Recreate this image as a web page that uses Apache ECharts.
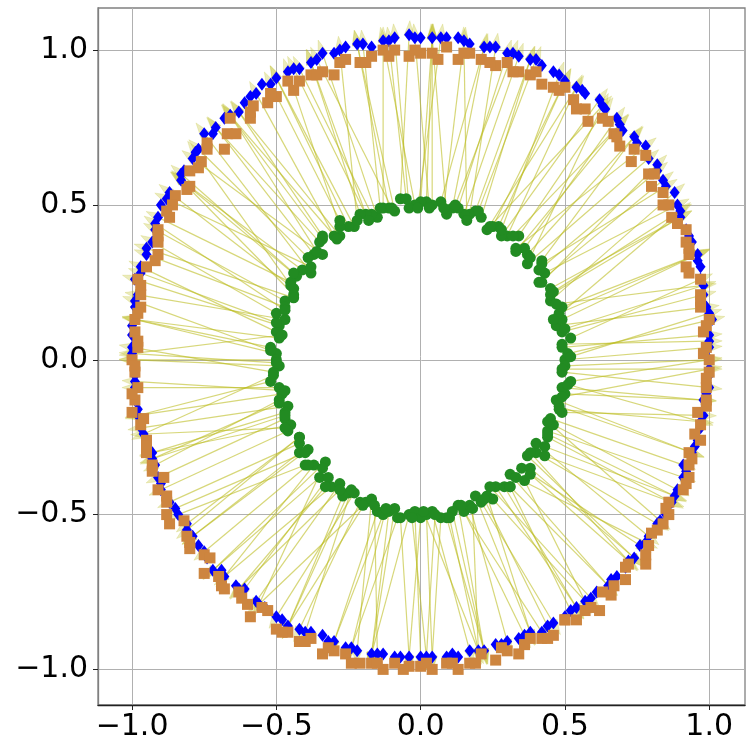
<!DOCTYPE html>
<html>
<head>
<meta charset="utf-8">
<script src="https://cdn.jsdelivr.net/npm/echarts@6/dist/echarts.min.js"></script>
<style>
  html, body { margin: 0; padding: 0; background: #fff; }
  #chart { width: 754px; height: 754px; }
</style>
</head>
<body>
<div id="chart"></div>
<script>
// tick positions on both axes
var tickValues = [-1.0, -0.5, 0.0, 0.5, 1.0];

// inner ring (green circles), first pass, read counter-clockwise from angle 0
var innerPoints = [
  [0.50, 0.00], [0.51, 0.02], [0.49, 0.04], [0.52, 0.07], [0.49, 0.09], [0.47, 0.11],
  [0.49, 0.13], [0.48, 0.15], [0.49, 0.17], [0.45, 0.19], [0.45, 0.21], [0.45, 0.23],
  [0.41, 0.25], [0.43, 0.28], [0.41, 0.29], [0.42, 0.32], [0.37, 0.31], [0.37, 0.34],
  [0.36, 0.36], [0.33, 0.36], [0.34, 0.40], [0.30, 0.40], [0.28, 0.40], [0.27, 0.43],
  [0.25, 0.43], [0.23, 0.42], [0.21, 0.46], [0.19, 0.48], [0.17, 0.47], [0.15, 0.47],
  [0.13, 0.49], [0.11, 0.49], [0.09, 0.47], [0.07, 0.51], [0.04, 0.50], [0.02, 0.51],
  [0.00, 0.51], [-0.02, 0.50], [-0.04, 0.49], [-0.07, 0.52], [-0.09, 0.48], [-0.11, 0.49],
  [-0.13, 0.49], [-0.15, 0.46], [-0.17, 0.47], [-0.19, 0.47], [-0.21, 0.47], [-0.23, 0.43],
  [-0.25, 0.43], [-0.28, 0.43], [-0.28, 0.40], [-0.30, 0.40], [-0.34, 0.40], [-0.35, 0.38],
  [-0.34, 0.34], [-0.37, 0.34], [-0.39, 0.33], [-0.38, 0.28], [-0.41, 0.29], [-0.43, 0.27],
  [-0.45, 0.25], [-0.44, 0.23], [-0.44, 0.21], [-0.47, 0.19], [-0.47, 0.17], [-0.50, 0.15],
  [-0.47, 0.13], [-0.49, 0.11], [-0.50, 0.09], [-0.49, 0.07], [-0.52, 0.04], [-0.50, 0.02],
  [-0.50, 0.00], [-0.49, -0.02], [-0.51, -0.04], [-0.52, -0.07], [-0.49, -0.09], [-0.48, -0.11],
  [-0.49, -0.13], [-0.46, -0.15], [-0.47, -0.17], [-0.47, -0.19], [-0.45, -0.21], [-0.46, -0.23],
  [-0.42, -0.25], [-0.42, -0.27], [-0.42, -0.30], [-0.39, -0.29], [-0.40, -0.34], [-0.37, -0.34],
  [-0.33, -0.33], [-0.35, -0.38], [-0.32, -0.38], [-0.31, -0.41], [-0.28, -0.40], [-0.27, -0.44],
  [-0.25, -0.43], [-0.23, -0.43], [-0.21, -0.46], [-0.19, -0.46], [-0.17, -0.45], [-0.15, -0.49],
  [-0.13, -0.50], [-0.11, -0.49], [-0.09, -0.48], [-0.07, -0.51], [-0.04, -0.50], [-0.02, -0.49],
  [0.00, -0.51], [0.02, -0.50], [0.04, -0.49], [0.07, -0.51], [0.09, -0.51], [0.11, -0.49],
  [0.13, -0.47], [0.15, -0.49], [0.17, -0.47], [0.19, -0.44], [0.21, -0.46], [0.23, -0.44],
  [0.25, -0.45], [0.26, -0.41], [0.29, -0.41], [0.31, -0.41], [0.31, -0.37], [0.36, -0.39],
  [0.35, -0.35], [0.38, -0.35], [0.37, -0.31], [0.40, -0.30], [0.43, -0.31], [0.40, -0.27],
  [0.44, -0.25], [0.44, -0.23], [0.46, -0.21], [0.45, -0.19], [0.49, -0.17], [0.48, -0.15],
  [0.47, -0.13], [0.50, -0.11], [0.49, -0.09], [0.52, -0.07], [0.49, -0.04], [0.50, -0.02]
];

// inner ring, second pass (points between the first ones)
var innerPointsB = [
  [0.52, 0.01], [0.49, 0.05], [0.50, 0.10], [0.46, 0.13], [0.47, 0.18], [0.46, 0.22],
  [0.42, 0.25], [0.42, 0.31], [0.38, 0.33], [0.33, 0.35], [0.32, 0.40], [0.28, 0.42],
  [0.24, 0.43], [0.20, 0.48], [0.16, 0.45], [0.12, 0.50], [0.08, 0.49], [0.03, 0.49],
  [-0.01, 0.49], [-0.05, 0.52], [-0.10, 0.49], [-0.14, 0.49], [-0.18, 0.45], [-0.22, 0.45],
  [-0.28, 0.45], [-0.29, 0.39], [-0.34, 0.39], [-0.36, 0.35], [-0.38, 0.30], [-0.44, 0.28],
  [-0.45, 0.24], [-0.44, 0.20], [-0.47, 0.16], [-0.50, 0.12], [-0.48, 0.08], [-0.52, 0.03],
  [-0.50, -0.01], [-0.51, -0.05], [-0.47, -0.10], [-0.49, -0.14], [-0.47, -0.18], [-0.47, -0.22],
  [-0.42, -0.25], [-0.40, -0.30], [-0.39, -0.34], [-0.34, -0.35], [-0.33, -0.41], [-0.28, -0.42],
  [-0.24, -0.42], [-0.20, -0.47], [-0.16, -0.47], [-0.12, -0.48], [-0.08, -0.51], [-0.03, -0.51],
  [0.01, -0.49], [0.05, -0.50], [0.10, -0.51], [0.14, -0.47], [0.18, -0.48], [0.22, -0.45],
  [0.24, -0.41], [0.31, -0.41], [0.33, -0.38], [0.38, -0.37], [0.38, -0.30], [0.43, -0.28],
  [0.44, -0.24], [0.44, -0.20], [0.48, -0.16], [0.49, -0.12], [0.51, -0.08], [0.49, -0.03]
];

// outer ring (blue diamonds), same order as innerPoints
var diamondPoints = [
  [1.00, 0.04], [1.00, 0.08], [1.01, 0.13], [0.99, 0.17], [0.98, 0.21], [0.97, 0.26],
  [0.97, 0.30], [0.96, 0.34], [0.94, 0.38], [0.92, 0.42], [0.90, 0.46], [0.89, 0.50],
  [0.88, 0.54], [0.84, 0.58], [0.82, 0.61], [0.79, 0.65], [0.78, 0.69], [0.74, 0.72],
  [0.70, 0.74], [0.68, 0.78], [0.64, 0.81], [0.62, 0.84], [0.57, 0.86], [0.54, 0.88],
  [0.50, 0.90], [0.46, 0.93], [0.42, 0.95], [0.38, 0.97], [0.34, 0.98], [0.30, 0.99],
  [0.26, 1.01], [0.22, 1.01], [0.17, 1.02], [0.13, 1.04], [0.09, 1.04], [0.04, 1.04],
  [0.00, 1.04], [-0.04, 1.05], [-0.09, 1.04], [-0.13, 1.03], [-0.17, 1.01], [-0.22, 1.02],
  [-0.26, 1.01], [-0.30, 0.99], [-0.34, 0.99], [-0.38, 0.96], [-0.42, 0.94], [-0.46, 0.93],
  [-0.50, 0.91], [-0.55, 0.89], [-0.57, 0.86], [-0.61, 0.83], [-0.63, 0.80], [-0.68, 0.78],
  [-0.71, 0.75], [-0.75, 0.73], [-0.77, 0.68], [-0.79, 0.65], [-0.82, 0.61], [-0.83, 0.58],
  [-0.87, 0.54], [-0.90, 0.50], [-0.91, 0.46], [-0.92, 0.42], [-0.93, 0.38], [-0.95, 0.34],
  [-0.97, 0.30], [-0.99, 0.26], [-0.98, 0.21], [-0.99, 0.17], [-0.99, 0.13], [-1.00, 0.08],
  [-1.00, 0.04], [-1.00, 0.00], [-0.99, -0.05], [-0.99, -0.09], [-0.99, -0.13], [-0.98, -0.18],
  [-0.97, -0.22], [-0.95, -0.26], [-0.93, -0.30], [-0.92, -0.34], [-0.91, -0.38], [-0.90, -0.42],
  [-0.87, -0.46], [-0.84, -0.50], [-0.81, -0.53], [-0.79, -0.57], [-0.77, -0.60], [-0.74, -0.64],
  [-0.72, -0.68], [-0.68, -0.70], [-0.64, -0.73], [-0.61, -0.74], [-0.57, -0.78], [-0.54, -0.80],
  [-0.50, -0.83], [-0.46, -0.86], [-0.42, -0.87], [-0.38, -0.88], [-0.34, -0.89], [-0.30, -0.91],
  [-0.26, -0.93], [-0.22, -0.94], [-0.17, -0.95], [-0.13, -0.95], [-0.09, -0.96], [-0.04, -0.96],
  [0.00, -0.96], [0.04, -0.96], [0.09, -0.96], [0.13, -0.96], [0.17, -0.94], [0.22, -0.94],
  [0.26, -0.92], [0.30, -0.91], [0.34, -0.90], [0.38, -0.88], [0.42, -0.88], [0.46, -0.85],
  [0.50, -0.83], [0.54, -0.80], [0.57, -0.78], [0.61, -0.75], [0.65, -0.73], [0.68, -0.70],
  [0.71, -0.67], [0.74, -0.64], [0.76, -0.60], [0.79, -0.57], [0.82, -0.53], [0.85, -0.50],
  [0.87, -0.46], [0.89, -0.42], [0.91, -0.38], [0.91, -0.34], [0.94, -0.30], [0.96, -0.26],
  [0.97, -0.22], [0.98, -0.18], [0.98, -0.13], [1.00, -0.09], [1.00, -0.05], [1.00, 0.00]
];

// outer ring (blue diamonds), second pass, same order as innerPointsB
var diamondPointsB = [
  [1.00, 0.06], [1.00, 0.15], [0.98, 0.24], [0.96, 0.32], [0.93, 0.40], [0.90, 0.48],
  [0.85, 0.56], [0.82, 0.63], [0.75, 0.70], [0.69, 0.76], [0.63, 0.82], [0.56, 0.87],
  [0.48, 0.92], [0.40, 0.97], [0.32, 0.99], [0.24, 1.01], [0.15, 1.03], [0.07, 1.04],
  [-0.02, 1.04], [-0.11, 1.03], [-0.20, 1.02], [-0.28, 1.00], [-0.36, 0.97], [-0.44, 0.94],
  [-0.52, 0.89], [-0.59, 0.85], [-0.66, 0.79], [-0.72, 0.73], [-0.78, 0.67], [-0.83, 0.60],
  [-0.88, 0.52], [-0.92, 0.44], [-0.95, 0.36], [-0.97, 0.28], [-0.99, 0.19], [-1.00, 0.11],
  [-1.00, 0.02], [-0.99, -0.07], [-0.98, -0.16], [-0.96, -0.24], [-0.93, -0.32], [-0.90, -0.40],
  [-0.85, -0.48], [-0.81, -0.55], [-0.75, -0.62], [-0.69, -0.68], [-0.63, -0.74], [-0.56, -0.79],
  [-0.48, -0.84], [-0.40, -0.88], [-0.32, -0.91], [-0.24, -0.93], [-0.15, -0.95], [-0.07, -0.96],
  [0.02, -0.96], [0.11, -0.95], [0.20, -0.94], [0.28, -0.92], [0.36, -0.89], [0.44, -0.86],
  [0.52, -0.81], [0.59, -0.77], [0.66, -0.71], [0.72, -0.65], [0.78, -0.59], [0.83, -0.52],
  [0.88, -0.44], [0.92, -0.36], [0.95, -0.28], [0.97, -0.20], [0.99, -0.11], [1.00, -0.03]
];

// outer ring (orange squares)
var squarePoints = [
  [1.00, 0.00], [0.99, 0.04], [0.98, 0.09], [1.00, 0.13], [0.97, 0.17], [0.97, 0.21],
  [0.97, 0.26], [0.92, 0.30], [0.93, 0.34], [0.92, 0.38], [0.92, 0.42], [0.87, 0.46],
  [0.86, 0.50], [0.84, 0.54], [0.80, 0.56], [0.79, 0.60], [0.78, 0.66], [0.74, 0.68],
  [0.69, 0.69], [0.67, 0.73], [0.65, 0.77], [0.58, 0.77], [0.57, 0.81], [0.53, 0.84],
  [0.50, 0.88], [0.46, 0.88], [0.42, 0.89], [0.38, 0.92], [0.34, 0.93], [0.30, 0.96],
  [0.26, 0.95], [0.21, 0.97], [0.17, 0.99], [0.13, 0.97], [0.09, 1.01], [0.04, 0.99],
  [0.00, 0.99], [-0.04, 0.98], [-0.09, 1.00], [-0.13, 1.00], [-0.17, 0.98], [-0.21, 0.96],
  [-0.26, 0.97], [-0.30, 0.92], [-0.34, 0.93], [-0.38, 0.92], [-0.42, 0.90], [-0.46, 0.90],
  [-0.50, 0.85], [-0.53, 0.83], [-0.58, 0.82], [-0.59, 0.78], [-0.66, 0.78], [-0.67, 0.73],
  [-0.68, 0.68], [-0.74, 0.68], [-0.76, 0.64], [-0.80, 0.61], [-0.80, 0.56], [-0.85, 0.53],
  [-0.86, 0.50], [-0.87, 0.46], [-0.91, 0.42], [-0.91, 0.38], [-0.91, 0.34], [-0.95, 0.30],
  [-0.98, 0.26], [-0.97, 0.21], [-0.97, 0.17], [-0.99, 0.13], [-0.99, 0.09], [-0.98, 0.04],
  [-1.00, 0.00], [-0.99, -0.04], [-0.98, -0.09], [-0.99, -0.13], [-1.00, -0.17], [-0.97, -0.21],
  [-0.95, -0.26], [-0.95, -0.30], [-0.93, -0.34], [-0.89, -0.38], [-0.91, -0.42], [-0.88, -0.46],
  [-0.88, -0.50], [-0.82, -0.52], [-0.81, -0.57], [-0.80, -0.61], [-0.75, -0.63], [-0.75, -0.69],
  [-0.70, -0.70], [-0.68, -0.74], [-0.63, -0.75], [-0.60, -0.79], [-0.59, -0.83], [-0.53, -0.81],
  [-0.50, -0.87], [-0.46, -0.88], [-0.42, -0.91], [-0.38, -0.90], [-0.34, -0.95], [-0.30, -0.94],
  [-0.26, -0.95], [-0.21, -0.98], [-0.17, -0.98], [-0.13, -1.00], [-0.09, -0.98], [-0.04, -0.99],
  [0.00, -0.99], [0.04, -1.00], [0.09, -0.98], [0.13, -1.00], [0.17, -0.98], [0.21, -0.95],
  [0.26, -0.97], [0.30, -0.94], [0.34, -0.95], [0.38, -0.90], [0.42, -0.90], [0.46, -0.89],
  [0.50, -0.84], [0.54, -0.84], [0.57, -0.81], [0.62, -0.81], [0.63, -0.75], [0.67, -0.73],
  [0.71, -0.71], [0.72, -0.66], [0.78, -0.66], [0.79, -0.60], [0.80, -0.56], [0.84, -0.53],
  [0.86, -0.50], [0.86, -0.46], [0.91, -0.42], [0.93, -0.38], [0.93, -0.34], [0.93, -0.30],
  [0.97, -0.26], [0.97, -0.21], [0.96, -0.17], [0.99, -0.13], [0.99, -0.09], [1.00, -0.04]
];

// outer ring (orange squares), second pass
var squarePointsB = [
  [0.98, 0.02], [0.99, 0.11], [0.97, 0.19], [0.93, 0.28], [0.93, 0.36], [0.89, 0.44],
  [0.84, 0.50], [0.81, 0.60], [0.73, 0.64], [0.68, 0.72], [0.63, 0.78], [0.54, 0.81],
  [0.48, 0.87], [0.40, 0.93], [0.32, 0.93], [0.24, 0.96], [0.15, 0.99], [0.06, 0.97],
  [-0.02, 1.00], [-0.11, 0.98], [-0.19, 0.96], [-0.28, 0.96], [-0.36, 0.92], [-0.44, 0.87],
  [-0.52, 0.86], [-0.59, 0.80], [-0.64, 0.73], [-0.74, 0.70], [-0.77, 0.62], [-0.81, 0.55],
  [-0.88, 0.48], [-0.91, 0.40], [-0.92, 0.32], [-0.97, 0.24], [-0.98, 0.15], [-0.98, 0.06],
  [-0.99, -0.02], [-1.00, -0.11], [-0.96, -0.19], [-0.95, -0.28], [-0.93, -0.36], [-0.88, -0.44],
  [-0.87, -0.53], [-0.80, -0.59], [-0.73, -0.64], [-0.69, -0.73], [-0.62, -0.77], [-0.55, -0.80],
  [-0.48, -0.88], [-0.40, -0.91], [-0.32, -0.93], [-0.24, -0.98], [-0.15, -0.98], [-0.06, -1.00],
  [0.02, -0.98], [0.11, -0.98], [0.19, -0.98], [0.28, -0.93], [0.36, -0.92], [0.44, -0.90],
  [0.50, -0.84], [0.59, -0.80], [0.66, -0.76], [0.71, -0.67], [0.78, -0.63], [0.82, -0.55],
  [0.85, -0.48], [0.92, -0.40], [0.94, -0.32], [0.95, -0.24], [0.99, -0.15], [0.99, -0.06]
];

// which diamond each arrow points at, as a shift from its own index (arrows fan, not purely radial)
var arrowShift = [
  0, 1, -1, 2, 0, -2, 1, 0, -1, 3, 0, -1, 1, -2, 0, 2, -1, 0, 1, -3, 0, 2, -1, 1, 0, -2, 1, 0, 2, -1, -1, 0, 3, -2, 1, 0,
  -1, 2, 0, -2, 1, 0, -3, 1, 2, 0, -1, 1, 0, -2, 2, -1, 0, 1, 3, -1, 0, -2, 1, 0, 2, -1, -3, 0, 1, -1, 2, 0, -2, 1, 0, -1,
  1, 0, -2, 2, -1, 0, 3, -1, 0, 1, -2, 0, 2, -1, 1, 0, -3, 2, 0, -1, 1, -2, 0, 2, 1, -1, 0, -2, 3, 0, -1, 1, 0, 2, -2, 1,
  -1, 0, 2, -2, 1, 0, -1, 3, -1, 0, 1, -2, 2, 0, -1, 1, 0, -3, 2, 0, -1, 1, 2, -2, 0, 1, -1, 0, 3, -1, -2, 1, 0, 2, -1, 0
];
var arrowShiftB = [
  1, -1, 0, 2, -2, 0, 1, -1, 2, 0, -1, 1, -2, 0, 2, -1, 0, 1,
  -1, 0, 2, -1, 1, -2, 0, 1, 0, -1, 2, 0, -2, 1, -1, 0, 2, -1,
  0, 2, -1, 1, 0, -2, 1, -1, 0, 2, 0, -1, 1, -2, 2, 0, -1, 1,
  2, -1, 0, 1, -2, 0, 1, -1, 2, 0, -1, 1, 0, -2, 1, 2, -1, 0
];

// the arrow head pokes a little past its diamond
var headReach = 0.045;

function buildArrows(from, to, shift) {
  var n = to.length;
  return from.map(function (p, i) {
    var q = to[(i + (shift[i] || 0) + n) % n];
    var dx = q[0] - p[0], dy = q[1] - p[1];
    var len = Math.sqrt(dx * dx + dy * dy) || 1;
    return [p[0], p[1], q[0] + dx / len * headReach, q[1] + dy / len * headReach];
  });
}

var arrowData = buildArrows(innerPoints, diamondPoints, arrowShift)
  .concat(buildArrows(innerPointsB, diamondPointsB, arrowShiftB));

function fmtTick(v) {
  var s = Math.abs(v).toFixed(1);
  return v < 0 ? '\u2212' + s : s;
}

function renderArrow(params, api) {
  var a = api.coord([api.value(0), api.value(1)]);
  var b = api.coord([api.value(2), api.value(3)]);
  var dx = b[0] - a[0], dy = b[1] - a[1];
  var len = Math.sqrt(dx * dx + dy * dy) || 1;
  var ux = dx / len, uy = dy / len;
  var headLen = 15, headHalf = 5;
  var bx = b[0] - ux * headLen, by = b[1] - uy * headLen;
  return {
    type: 'group',
    children: [{
      type: 'line',
      shape: { x1: a[0], y1: a[1], x2: bx, y2: by },
      style: { stroke: 'rgba(188,189,34,0.6)', lineWidth: 1.2 }
    }, {
      type: 'polygon',
      shape: { points: [[b[0], b[1]], [bx - uy * headHalf, by + ux * headHalf], [bx + uy * headHalf, by - ux * headHalf]] },
      style: { fill: 'rgba(188,189,34,0.3)', stroke: 'rgba(188,189,34,0.35)', lineWidth: 0.6 }
    }]
  };
}

var chart = echarts.init(document.getElementById('chart'), null, { renderer: 'canvas' });

var axisCommon = {
  type: 'value',
  axisLine: { show: true, onZero: false, lineStyle: { color: '#808080', width: 1.3 } },
  axisTick: { show: true, length: 5, customValues: tickValues, lineStyle: { color: '#222' } },
  axisLabel: {
    customValues: tickValues,
    formatter: fmtTick,
    fontFamily: 'DejaVu Sans',
    fontSize: 30,
    color: '#000'
  },
  splitLine: { show: true, lineStyle: { color: '#b0b0b0', width: 1 } }
};

var option = {
  animation: false,
  backgroundColor: '#fff',
  grid: {
    left: 98, right: 9, top: 8, bottom: 49,
    containLabel: false,
    outerBoundsMode: 'none',
    show: true,
    borderColor: '#808080',
    borderWidth: 1.3,
    backgroundColor: 'transparent'
  },
  xAxis: echarts.util.merge({
    min: -1.118, max: 1.124,
    axisLine: { lineStyle: { color: '#222' } },
    axisLabel: { margin: 7 }
  }, axisCommon),
  yAxis: echarts.util.merge({
    min: -1.115, max: 1.136,
    axisLabel: { margin: 10 }
  }, axisCommon),
  series: [{
    type: 'custom',
    renderItem: renderArrow,
    data: arrowData,
    encode: { x: [0, 2], y: [1, 3] },
    z: 1,
    silent: true
  }, {
    type: 'scatter',
    data: innerPoints.concat(innerPointsB),
    symbol: 'circle',
    symbolSize: 11,
    itemStyle: { color: '#228B22', opacity: 1 },
    z: 2
  }, {
    type: 'scatter',
    data: diamondPoints.concat(diamondPointsB),
    symbol: 'path://M0,-10 L6,0 L0,10 L-6,0 Z',
    symbolSize: [10, 13],
    itemStyle: { color: '#0000ff', opacity: 1 },
    z: 3
  }, {
    type: 'scatter',
    data: squarePoints.concat(squarePointsB),
    symbol: 'rect',
    symbolSize: 11,
    itemStyle: { color: '#CD853F', opacity: 1 },
    z: 4
  }]
};

chart.setOption(option);
</script>
</body>
</html>
